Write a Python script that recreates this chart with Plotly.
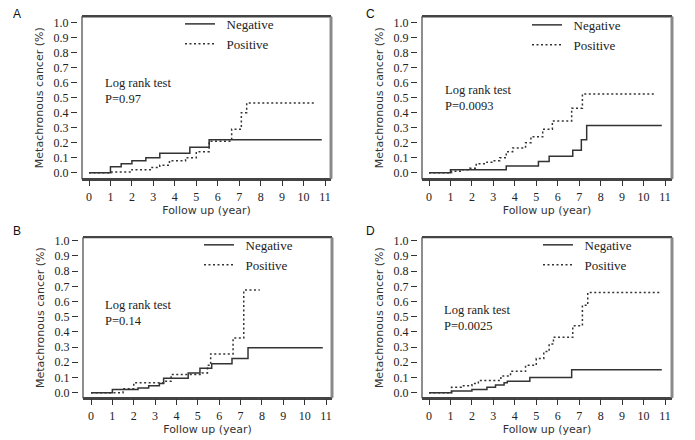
import plotly.graph_objects as go

W, H = 695, 440

# ---------------- data ----------------
panel_labels = ["A", "C", "B", "D"]
p_texts = ["P=0.97", "P=0.0093", "P=0.14", "P=0.0025"]
x_ticks = list(range(0, 12))
y_ticks = [0.0, 0.1, 0.2, 0.3, 0.4, 0.5, 0.6, 0.7, 0.8, 0.9, 1.0]
x_title = "Follow up (year)"
y_title = "Metachronous cancer (%)"

A_neg_t = [0, 1.0, 1.5, 2.0, 2.65, 3.3, 4.7, 5.6, 10.85]
A_neg_v = [0, 0.04, 0.06, 0.08, 0.10, 0.13, 0.17, 0.22, 0.22]
A_pos_t = [0, 1.05, 2.0, 2.9, 3.3, 3.75, 4.5, 5.0, 5.6, 6.65, 7.1, 7.35, 10.55]
A_pos_v = [0, 0.005, 0.02, 0.035, 0.05, 0.08, 0.10, 0.14, 0.21, 0.29, 0.40, 0.465, 0.465]
C_neg_t = [0, 1.0, 3.6, 5.1, 5.6, 6.7, 7.1, 7.35, 10.85]
C_neg_v = [0, 0.02, 0.045, 0.075, 0.11, 0.15, 0.22, 0.315, 0.315]
C_pos_t = [0, 1.05, 1.5, 1.9, 2.2, 2.7, 3.0, 3.3, 3.6, 3.9, 4.5, 4.75, 5.3, 5.75, 6.65, 7.15, 10.55]
C_pos_v = [0, 0.01, 0.02, 0.03, 0.06, 0.07, 0.08, 0.10, 0.14, 0.165, 0.20, 0.24, 0.29, 0.345, 0.43, 0.525, 0.525]
B_neg_t = [0, 1.0, 2.2, 2.7, 3.2, 3.4, 4.55, 5.1, 5.65, 6.6, 7.35, 10.85]
B_neg_v = [0, 0.02, 0.03, 0.045, 0.06, 0.095, 0.13, 0.16, 0.19, 0.225, 0.295, 0.295]
B_pos_t = [0, 1.5, 2.0, 3.4, 3.75, 5.2, 5.45, 5.6, 6.65, 7.15, 7.9]
B_pos_v = [0, 0.025, 0.065, 0.075, 0.12, 0.13, 0.18, 0.255, 0.36, 0.675, 0.675]
D_neg_t = [0, 1.05, 2.0, 2.7, 3.1, 3.5, 3.65, 4.7, 6.65, 10.85]
D_neg_v = [0, 0.01, 0.02, 0.035, 0.05, 0.065, 0.075, 0.10, 0.15, 0.15]
D_pos_t = [0, 1.05, 1.5, 2.0, 2.3, 3.35, 3.8, 4.5, 5.0, 5.35, 5.6, 5.8, 6.7, 7.15, 7.4, 10.8]
D_pos_v = [0, 0.035, 0.045, 0.06, 0.08, 0.11, 0.14, 0.18, 0.225, 0.27, 0.32, 0.365, 0.44, 0.575, 0.66, 0.66]

series = [(A_neg_t, A_neg_v, A_pos_t, A_pos_v), (C_neg_t, C_neg_v, C_pos_t, C_pos_v),
          (B_neg_t, B_neg_v, B_pos_t, B_pos_v), (D_neg_t, D_neg_v, D_pos_t, D_pos_v)]

# ---------------- geometry (pixels) ----------------
frames = [
    dict(l=82, r=331, t=13, b=177, x0=89, x11=325, y0=171, y1=19),
    dict(l=422, r=672, t=13, b=177, x0=429, x11=665, y0=171, y1=19),
    dict(l=83, r=332, t=237, b=399, x0=91, x11=326, y0=394, y1=240),
    dict(l=422, r=672, t=237, b=399, x0=429, x11=665, y0=394, y1=240),
]
label_pos = [(17, 10), (370, 10), (17, 230), (370, 230)]
text_pos = [(103, 71), (443, 78), (103, 296), (442, 301)]
legend_pos = [(185, 26), (532, 27), (204, 250), (543, 250)]

SERIF = "Liberation Serif"
SANS = "DejaVu Sans"
LINEC = "#333333"

def px(xp):
    return xp / W

def py(yp):
    return 1 - yp / H

fig = go.Figure()
layout = dict(width=W, height=H, autosize=False, margin=dict(l=0, r=0, t=0, b=0),
              paper_bgcolor="white", plot_bgcolor="rgba(0,0,0,0)", showlegend=True)
annotations = []
shapes = []
for i, fr in enumerate(frames):
    n = i + 1
    xa = "x" if n == 1 else f"x{n}"
    ya = "y" if n == 1 else f"y{n}"
    xkey = "xaxis" if n == 1 else f"xaxis{n}"
    ykey = "yaxis" if n == 1 else f"yaxis{n}"
    lg = "legend" if n == 1 else f"legend{n}"
    ppy = (fr["x11"] - fr["x0"]) / 11.0
    ppv = (fr["y0"] - fr["y1"]) / 1.0
    xr = [-(fr["x0"] - fr["l"]) / ppy, 11 + (fr["r"] - fr["x11"]) / ppy]
    yr = [-(fr["b"] - fr["y0"]) / ppv, 1 + (fr["y1"] - fr["t"]) / ppv]
    layout[xkey] = dict(domain=[px(fr["l"]), px(fr["r"])], range=xr, anchor=ya,
                        tickvals=x_ticks, ticks="outside", ticklen=6, tickcolor=LINEC,
                        showline=True, mirror=True, linecolor="#444444", linewidth=1.5,
                        showgrid=False, zeroline=False,
                        tickfont=dict(family=SERIF, size=12, color="#222"),
                        title=dict(text=x_title, standoff=4,
                                   font=dict(family=SANS, size=11, color="#333")))
    layout[ykey] = dict(domain=[py(fr["b"]), py(fr["t"])], range=yr, anchor="free",
                        position=px(fr["l"] - 5), tickvals=y_ticks,
                        ticktext=[f"{v:.1f}" for v in y_ticks], ticks="outside", ticklen=6,
                        tickcolor=LINEC, showline=False, showgrid=False, zeroline=False,
                        tickfont=dict(family=SERIF, size=12, color="#222"),
                        title=dict(text=y_title, standoff=6,
                                   font=dict(family=SANS, size=11, color="#333")))
    nt, nv, pt, pv = series[i]
    fig.add_trace(go.Scatter(x=nt, y=nv, mode="lines", line=dict(shape="hv", color=LINEC, width=1.5),
                             name="  Negative", xaxis=xa, yaxis=ya, legend=lg))
    fig.add_trace(go.Scatter(x=pt, y=pv, mode="lines",
                             line=dict(shape="hv", color=LINEC, width=1.5, dash="2px,2.5px"),
                             name="  Positive", xaxis=xa, yaxis=ya, legend=lg))
    lx, ly = legend_pos[i]
    layout[lg] = dict(x=px(lx - 5), y=py(ly - 21), xanchor="left", yanchor="top",
                      bgcolor="rgba(0,0,0,0)", borderwidth=0,
                      font=dict(family=SERIF, size=13, color="#222"))
    L, R, T, B = px(fr["l"]), px(fr["r"]), py(fr["t"]), py(fr["b"])
    shapes.append(dict(type="rect", xref="paper", yref="paper", x0=L, x1=R, y0=B, y1=T,
                       line=dict(color="#444444", width=1.2)))
    shapes.append(dict(type="line", xref="paper", yref="paper", x0=R, x1=R, y0=B, y1=T,
                       line=dict(color="#8a8a8a", width=3)))
    lxp, lyp = label_pos[i]
    annotations.append(dict(text=panel_labels[i], x=px(lxp), y=py(lyp), xref="paper", yref="paper",
                            xanchor="center", yanchor="middle", showarrow=False,
                            font=dict(family="Liberation Sans", size=12, color="#111")))
    tx, ty = text_pos[i]
    annotations.append(dict(text="Log rank test<br>" + p_texts[i], x=px(tx), y=py(ty),
                            xref="paper", yref="paper", xanchor="left", yanchor="top", align="left",
                            showarrow=False, font=dict(family=SERIF, size=12.5, color="#222")))

layout["annotations"] = annotations
layout["shapes"] = shapes
fig.update_layout(**layout)

fig.write_html("out.html", config={"displayModeBar": False},
               post_script="document.body.style.margin='0';document.body.style.overflow='hidden';")
